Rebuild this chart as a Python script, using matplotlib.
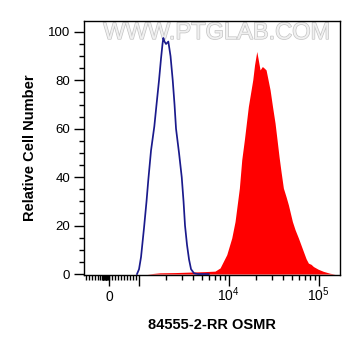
import numpy as np
import matplotlib
matplotlib.use('Agg')
import matplotlib.pyplot as plt
import matplotlib.patheffects as pe
from matplotlib.ticker import FixedLocator

plt.rcParams['font.family'] = ['Liberation Sans', 'DejaVu Sans']
plt.rcParams['mathtext.fontset'] = 'custom'
plt.rcParams['mathtext.rm'] = 'Liberation Sans'
plt.rcParams['mathtext.it'] = 'Liberation Sans'

# ---------------------------------------------
#               DATA
# ---------------------------------------------

# isotype control, blue outline
ctrl_x = [942, 1008, 1061, 1145, 1221, 1279, 1370, 1491, 1577, 1681, 1769, 1838,
          1877, 1935, 2011, 2133, 2256, 2387, 2499, 2597, 2804, 3005, 3147, 3268,
          3440, 3622, 3812, 4117, 4560, 6000]
ctrl_y = [0, 2, 7, 19, 30, 39, 51, 61, 70, 80, 89, 95,
          97.5, 96, 95, 96, 90, 80, 70, 60, 50, 40, 30, 20,
          12, 6, 2, 0.3, 0, 0]

# OSMR stained, red filled
osmr_x = [1237, 1725, 2532, 3715, 5453, 7043, 7606, 8004, 9502, 10798, 11749, 13120,
          13944, 14907, 16508, 18478, 19347, 20470, 21163, 22276, 23623, 24675,
          25967, 27331, 28763, 30664, 32686, 34400, 36216, 38117, 40430, 43322,
          45946, 50897, 54542, 59338, 67448, 72270, 76650, 82130, 87096, 98226,
          112500, 133580, 151780]
osmr_y = [0, 0.5, 0.6, 0.8, 1.0, 1.2, 2.0, 2.5, 8.0, 14.9, 21.7, 35.5,
          47.2, 55.4, 69.2, 80.2, 86.4, 91.9, 89.0, 84.3, 85.7, 85.1,
          84.3, 80.2, 76.1, 69.0, 62.3, 55.4, 48.4, 42.2, 35.5, 31.9,
          28.6, 21.7, 18.3, 14.9, 9.3, 6.3, 4.5, 4.0, 3.1, 2.0,
          1.1, 0.3, 0]

x_major = [0, 1e3, 1e4, 1e5]
x_major_labels = ['0', '', r'$10^4$', r'$10^5$']
y_major = [0, 20, 40, 60, 80, 100]

# ---------------------------------------------
#               CREATE GRAPH
# ---------------------------------------------

fig = plt.figure(figsize=(3.61, 3.56), dpi=100)
ax = fig.add_axes([84 / 361, 1 - 275 / 356, 256 / 361, 254 / 356])

ax.fill_between(osmr_x, osmr_y, 0, color='#ff0000', lw=0, zorder=2)
ax.plot(ctrl_x, ctrl_y, color='#1a1a8c', lw=1.25, zorder=3)

ax.set_xscale('symlog', linthresh=1000, linscale=0.294)
ax.set_xlim(-860, 172000)
ax.set_ylim(-0.4, 104.5)

# x ticks
minor_x = list(range(-800, 1000, 100)) + list(range(-250, 0, 25))
minor_x += [m * 1000 for m in range(2, 10)] + [m * 10000 for m in range(2, 10)]
ax.xaxis.set_major_locator(FixedLocator(x_major))
ax.xaxis.set_minor_locator(FixedLocator(minor_x))
ax.set_xticklabels(x_major_labels)
ax.tick_params(axis='x', which='major', length=8, width=1, pad=10.5, labelsize=10)
ax.tick_params(axis='x', which='minor', length=3.5, width=1)
plt.setp(ax.get_xticklabels(), va='baseline')

# y ticks
ax.yaxis.set_major_locator(FixedLocator(y_major))
ax.yaxis.set_minor_locator(FixedLocator(list(range(5, 105, 5))))
ax.tick_params(axis='y', which='major', length=7, width=1, pad=3, labelsize=9.5)
ax.tick_params(axis='y', which='minor', length=3.5, width=1)

for s in ax.spines.values():
    s.set_linewidth(1)

ax.set_xlabel('84555-2-RR OSMR', fontsize=10.5, fontweight='bold', labelpad=10)
ax.set_ylabel('Relative Cell Number', fontsize=10.5, fontweight='bold', labelpad=8)

# watermark
ax.text(0.5176, 0.953, 'WWW.PTGLAB.COM', transform=ax.transAxes, ha='center', va='center',
        fontsize=17, color='#f0f0f0', zorder=1,
        path_effects=[pe.withStroke(linewidth=1.0, foreground='#c4c4c4')])

fig.savefig('out.png', dpi=100)
